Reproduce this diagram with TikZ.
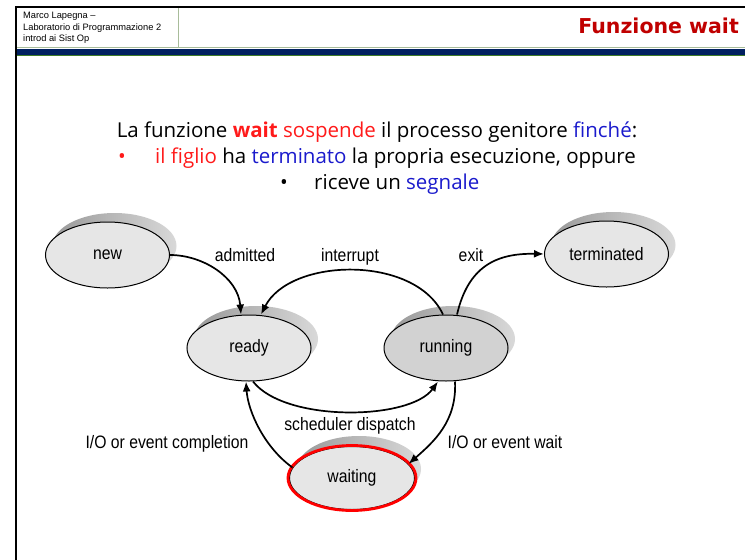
\documentclass[tikz,border=0pt]{standalone}
\usepackage{fontspec}
\setmainfont{Liberation Sans}
\newfontfamily\bodyfont{Open Sans}
\newfontfamily\lblfont[FakeStretch=0.875]{Liberation Sans}
\newfontfamily\titlefont{DejaVu Sans}
\usetikzlibrary{shapes.geometric,arrows.meta,backgrounds}

\definecolor{navy}{HTML}{002060}
\definecolor{hdrgreen}{HTML}{3E7B27}
\definecolor{hdrline}{HTML}{A8BC9A}
\definecolor{titlered}{HTML}{C00000}
\definecolor{txtred}{HTML}{FF1A1A}
\definecolor{txtblue}{HTML}{1A1ACC}
\definecolor{statefill}{HTML}{E6E6E6}
\definecolor{runfill}{HTML}{D2D2D2}

\tikzset{
  state/.style={ellipse, draw=black, line width=1pt, fill=statefill,
    minimum width=124pt, minimum height=66pt, inner sep=0pt,
    font=\lblfont\fontsize{18}{20}\selectfont},
  trans/.style={line width=1.7pt, -{Latex[length=10pt,width=8pt]}},
  lbl/.style={font=\lblfont\fontsize{18}{20}\selectfont, inner sep=0pt, anchor=base},
  hdr/.style={font=\fontsize{9.3}{11}\selectfont, inner sep=0pt, anchor=base west},
  body/.style={font=\bodyfont\fontsize{20.5}{24}\selectfont, inner sep=0pt},
}

\begin{document}
\begin{tikzpicture}[x=1pt,y=-1pt]
\useasboundingbox (0,0) rectangle (745,560);

% slide header
\draw[line width=2pt] (16,7) -- (745,7);
\draw[line width=2.5pt] (16,6) -- (16,560);
\draw[hdrline, line width=0.8pt] (178,8) -- (178,47);
\draw[hdrline, line width=0.8pt] (17,47) -- (745,47);
\fill[navy] (17,48.5) rectangle (745,55);
\draw[hdrgreen, line width=1pt] (17,55.5) -- (745,55.5);

\node[hdr] (h1) at (23,18.5) {Marco Lapegna --};
\node[hdr] (h2) at (23,30) {Laboratorio di Programmazione 2};
\node[hdr] (h3) at (23,41.3) {introd ai Sist Op};
\node[anchor=base east, inner sep=0pt, text=titlered,
      font=\titlefont\bfseries\fontsize{20.5}{24}\selectfont] (title) at (739,33) {Funzione wait};

% description text
\node[body, anchor=base] (l1) at (377,137.5)
  {La funzione \textcolor{txtred}{\textbf{wait}} \textcolor{txtred}{sospende} il processo genitore \textcolor{txtblue}{finché}:};
\node[body, anchor=base west] (b1) at (118,163.5) {\textcolor{txtred}{•}};
\node[body, anchor=base west] (l2) at (155,163.5)
  {\textcolor{txtred}{il figlio} ha \textcolor{txtblue}{terminato} la propria esecuzione, oppure};
\node[body, anchor=base west] (b2) at (280,189) {•};
\node[body, anchor=base west] (l3) at (314,189) {riceve un \textcolor{txtblue}{segnale}};

% process states
\node[state] (new) at (107.5,255) {new};
\node[state] (term) at (606.5,254) {terminated};
\node[state] (ready) at (249,348) {ready};
\node[state, fill=runfill] (run) at (446,348) {running};
\node[state, minimum width=125pt, minimum height=63pt] (wait) at (352,478) {waiting};
\draw[red, line width=2.8pt] (wait.center) ellipse [x radius=64pt, y radius=32.5pt];

\begin{pgfonlayer}{background}
  \foreach \n in {new,term,ready,run,wait}
    \shade[left color=gray!80, right color=gray!30]
      ([shift={(7,-9)}]\n.center) ellipse [x radius=62pt, y radius=33pt];
\end{pgfonlayer}

% transitions
\draw[trans] (new.east) .. controls +(33,0) and +(-3,-37) .. ([xshift=-8pt]ready.north);
\draw[trans] ([xshift=-3pt]run.north) .. controls +(-28,-60) and +(29,-57) .. ([xshift=12pt]ready.north);
\draw[trans] ([xshift=11pt]run.north) .. controls +(11,-47) and +(-49,-1) .. (term.west);
\draw[trans] ([xshift=4pt]ready.south) .. controls +(32,41) and +(-28,39) .. ([xshift=-8pt]run.south);
\draw[trans] (wait.170) .. controls +(-28,-20) and +(2,30) .. ([xshift=-3pt]ready.south);
\draw[trans] ([xshift=9pt]run.south) .. controls +(2,40) and +(25,-22) .. (wait.14);

% transition labels
\node[lbl] (tadm) at (245,261) {admitted};
\node[lbl] (tint) at (350,261) {interrupt};
\node[lbl] (texit) at (471,261) {exit};
\node[lbl] (tdisp) at (350,430.5) {scheduler dispatch};
\node[lbl] (tcomp) at (167,448) {I/O or event completion};
\node[lbl] (twait) at (505,448) {I/O or event wait};
\end{tikzpicture}
\end{document}
